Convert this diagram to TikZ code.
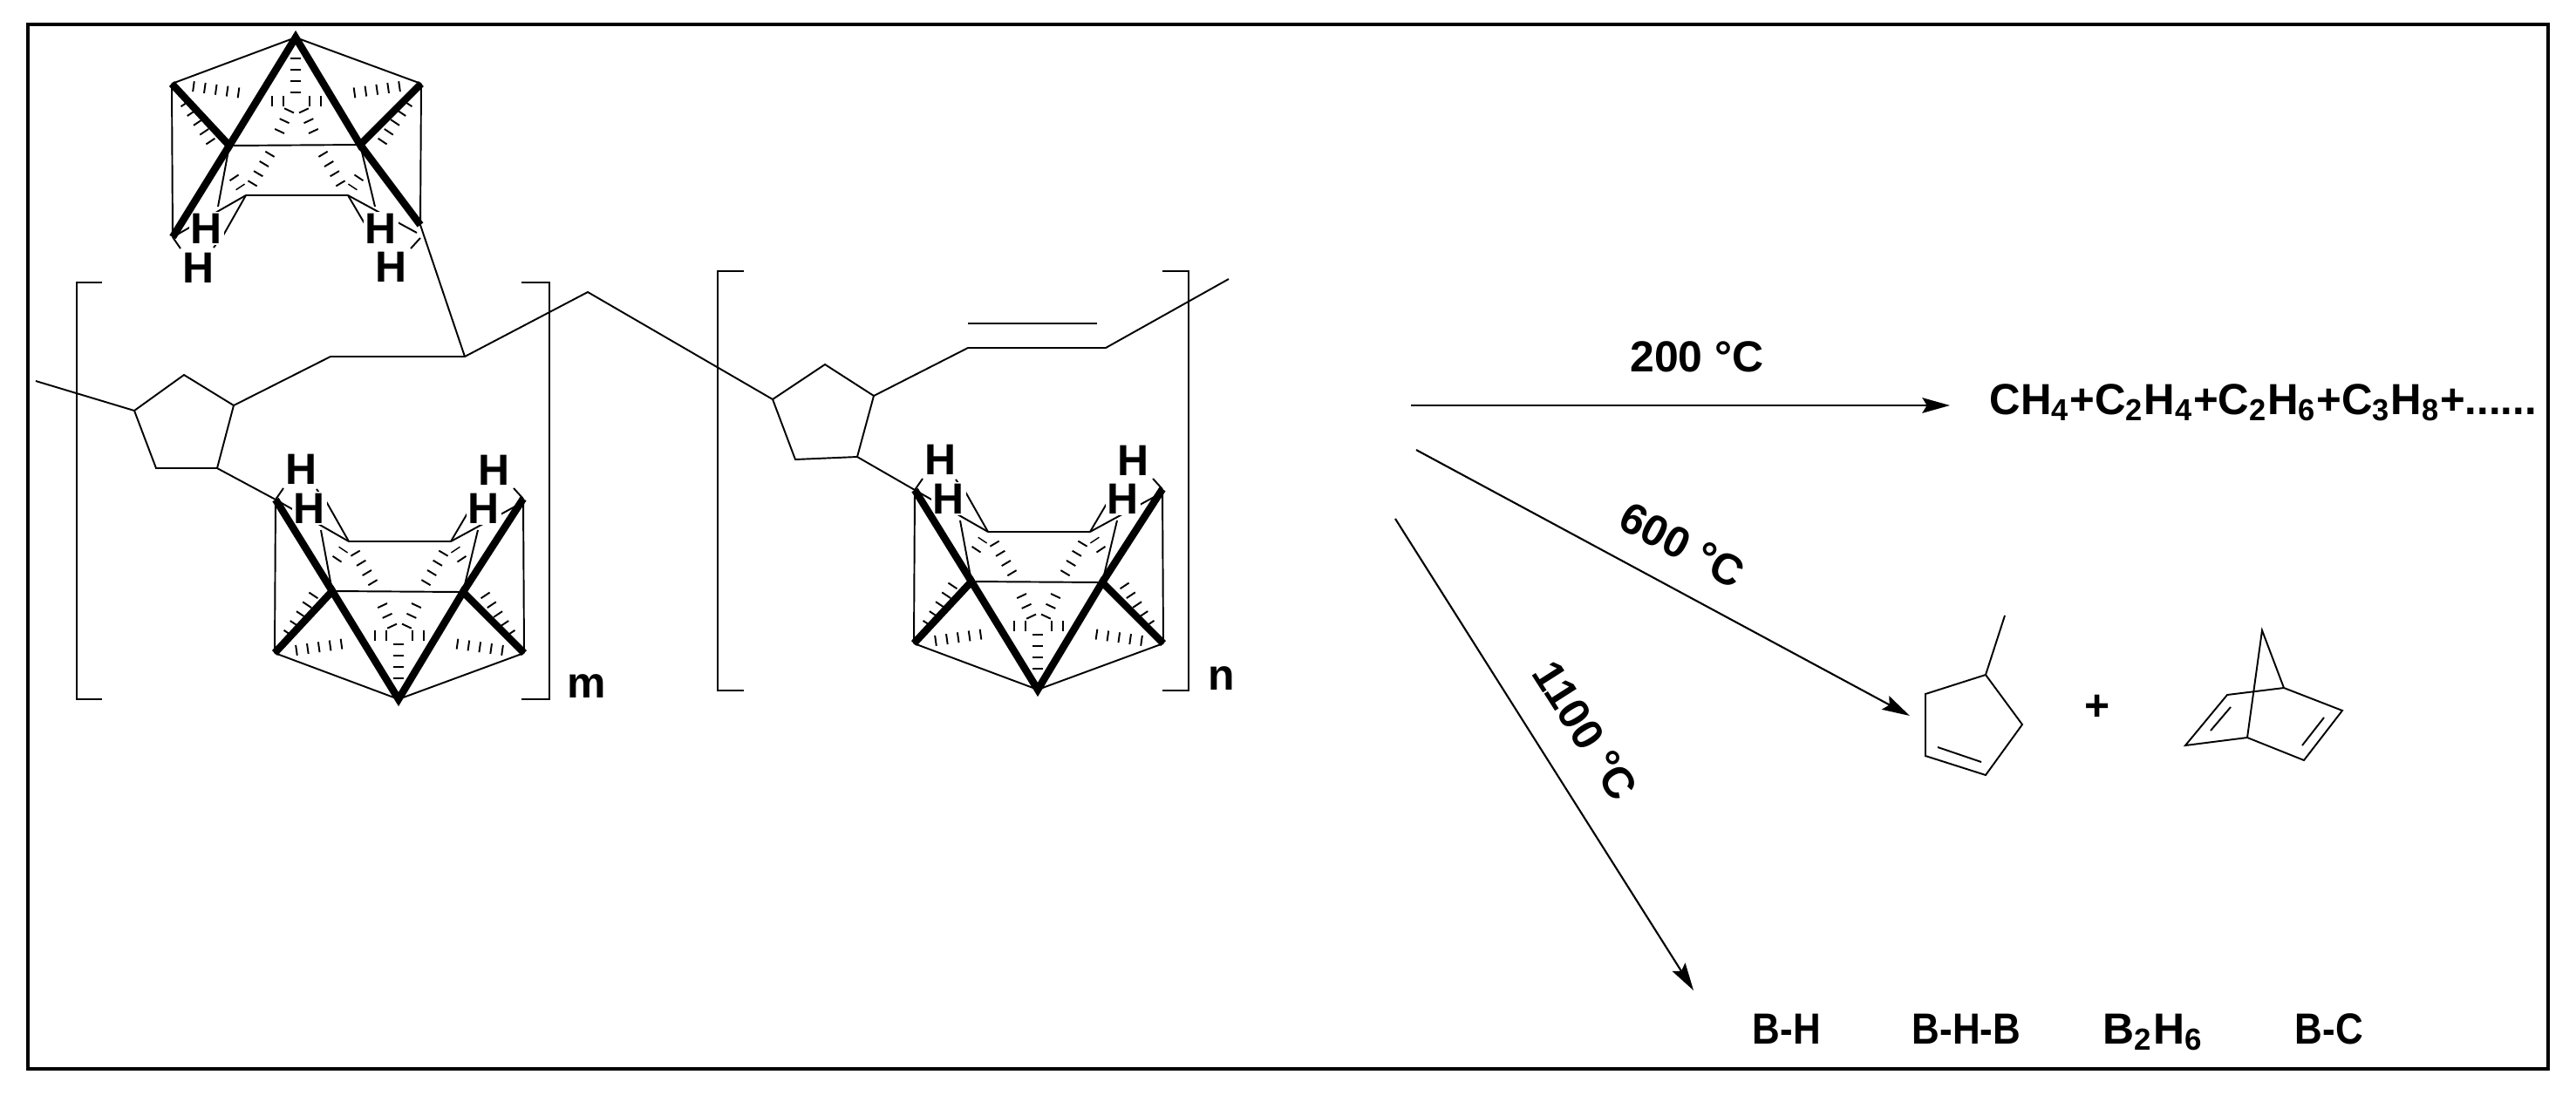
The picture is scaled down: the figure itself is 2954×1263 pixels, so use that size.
\documentclass[tikz,border=0pt]{standalone}
\usepackage{fontspec}
\setmainfont{Liberation Sans}
\usetikzlibrary{arrows.meta,positioning}
\tikzset{
	thinbond/.style={line width=0.55pt, black},
	thickbond/.style={line width=2.4pt, black},
	hashbond/.style={line width=3.4pt, black, dash pattern=on 0.55pt off 3.15pt},
	atomlabel/.style={font=\fontsize{14.2}{16}\selectfont\bfseries, fill=white, inner sep=0.5pt},
	chemlabel/.style={font=\fontsize{14.2}{16}\selectfont\bfseries, inner sep=0pt},
	reaction/.style={line width=0.6pt, black, -{Stealth[length=9pt,width=5pt,inset=1.5pt]}},
}
\newcommand{\cagedraw}[2]{
	\coordinate (#1A) at (339,43);
	\coordinate (#1UL) at (197,96);
	\coordinate (#1UR) at (483,96);
	\coordinate (#1ML) at (263,167);
	\coordinate (#1MR) at (413,166);
	\coordinate (#1FL) at (198,272);
	\coordinate (#1FR) at (482,#2);
	\coordinate (#1IL) at (282,224);
	\coordinate (#1IR) at (399,224);

	\draw[thinbond] (#1UL) -- (#1A) -- (#1UR);
	\draw[thinbond] (#1UL) -- (#1FL);
	\draw[thinbond] (#1UR) -- (#1FR);
	\draw[thinbond] (#1ML) -- (#1MR);
	\draw[thinbond] (#1IL) -- (#1IR);
	\draw[thinbond] (#1IL) -- (#1FL);
	\draw[thinbond] (#1IR) -- (478,267);
	\draw[thinbond] (#1IL) -- (252,277);
	\draw[thinbond] (#1IR) -- (432,280);
	\draw[thinbond] (#1ML) -- (250,237);
	\draw[thinbond] (#1MR) -- (430,237);
	\draw[thinbond] (#1FL) -- (207,285);
	\draw[thinbond] (250,277) -- (245,284);
	\draw[thinbond] (482,273) -- (471,285);

	\draw[hashbond] (339,66) -- (339,108);
	\draw[hashbond] (221,99) -- (278,107);
	\draw[hashbond] (459,99) -- (402,107);
	\draw[hashbond] (311,116) -- (328,116);
	\draw[hashbond] (369,116) -- (352,116);
	\draw[hashbond] (332,126) -- (318,156);
	\draw[hashbond] (348,126) -- (362,156);
	\draw[hashbond] (310,176) -- (285,218);
	\draw[hashbond] (370,176) -- (395,218);
	\draw[hashbond] (212,118) -- (248,172);
	\draw[hashbond] (468,118) -- (432,172);
	\draw[hashbond] (268,203) -- (276,215);
	\draw[hashbond] (412,203) -- (404,215);

	\node[atomlabel] (#1ha) at (237,262) {H};
	\node[atomlabel] (#1hb) at (228,307) {H};
	\node[atomlabel] (#1hc) at (437,262) {H};
	\node[atomlabel] (#1hd) at (449,306) {H};

	\draw[thickbond] (#1UL) -- (#1ML) -- (#1A) -- (#1MR) -- (#1UR);
	\draw[thickbond] (#1ML) -- (#1FL);
	\draw[thickbond] (#1MR) -- (#1FR);
}
\begin{document}
\begin{tikzpicture}[x=0.01cm,y=-0.01cm]
		\useasboundingbox (0,0) rectangle (2954,1263);
		\draw[line width=1.4pt, black] (32,28) rectangle (2922,1226);

		\begin{scope}
			\cagedraw{top}{258}
		\end{scope}
		\begin{scope}[shift={(118,845)},yscale=-1]
			\cagedraw{mid}{273}
		\end{scope}
		\begin{scope}[shift={(851,834)},yscale=-1]
			\cagedraw{low}{273}
		\end{scope}

		\draw[thinbond] (41,437) -- (154,471) -- (211,430) -- (268,465) -- (249,537) -- (179,537) -- (154,471);
		\draw[thinbond] (268,465) -- (379,409) -- (533,409) -- (674,335) -- (886,458);
		\draw[thinbond] (533,409) -- (topFR);
		\draw[thinbond] (249,537) -- (midFL);
		\draw[thinbond] (886,458) -- (946,418) -- (1002,454) -- (983,524) -- (912,527) -- (886,458);
		\draw[thinbond] (1002,454) -- (1110,399) -- (1268,399) -- (1409,320);
		\draw[thinbond] (1110,371) -- (1258,371);
		\draw[thinbond] (983,524) -- (lowFL);

		\draw[thinbond] (117,324) -- (88,324) -- (88,802) -- (117,802);
		\draw[thinbond] (598,324) -- (630,324) -- (630,802) -- (598,802);
		\draw[thinbond] (853,311) -- (823,311) -- (823,792) -- (853,792);
		\draw[thinbond] (1333,311) -- (1363,311) -- (1363,792) -- (1333,792);

		\node[chemlabel] (mlabel) at (673,787) {m};
		\node[chemlabel] (nlabel) at (1401,778) {n};

		\coordinate (startone) at (1618,465);
		\coordinate (endone) at (2236,465);
		\coordinate (starttwo) at (1624,516);
		\coordinate (endtwo) at (2190,821);
		\coordinate (startthree) at (1600,595);
		\coordinate (endthree) at (1942,1136);
		\draw[reaction] (startone) -- (endone);
		\draw[reaction] (starttwo) -- (endtwo);
		\draw[reaction] (startthree) -- (endthree);

		\node[chemlabel] (tempone) at (1946,409) {200 °C};
		\node[chemlabel, rotate=-28] (temptwo) at (1929,625) {600 °C};
		\node[chemlabel, rotate=-57.5] (tempthree) at (1818,838) {1100 °C};

		\node[chemlabel, xscale=0.985, anchor=base west] (gases) at (2281,475) {CH\textsubscript{4}+C\textsubscript{2}H\textsubscript{4}+C\textsubscript{2}H\textsubscript{6}+C\textsubscript{3}H\textsubscript{8}+......};

		\draw[thinbond] (2299,706) -- (2277,774);
		\draw[thinbond] (2277,774) -- (2208,796) -- (2208,867) -- (2277,889) -- (2319,831) -- cycle;
		\draw[thinbond] (2222,857) -- (2272,874);

		\node[chemlabel] (plus) at (2405,812) {+};

		\draw[thinbond] (2619,789) -- (2594,723) -- (2577,846);
		\draw[thinbond] (2619,789) -- (2554,797) -- (2506,855) -- (2577,846) -- (2642,872) -- (2686,815) -- cycle;
		\draw[thinbond] (2558,811) -- (2535,838);
		\draw[thinbond] (2665,823) -- (2640,855);

		\node[chemlabel, xscale=0.88, anchor=base] (bh) at (2049,1197) {B-H};
		\node[chemlabel, xscale=0.88, anchor=base] (bhb) at (2255,1197) {B-H-B};
		\node[chemlabel, anchor=base] (bhsix) at (2469,1197) {B\textsubscript{2}H\textsubscript{6}};
		\node[chemlabel, xscale=0.88, anchor=base] (bc) at (2671,1197) {B-C};
\end{tikzpicture}
\end{document}
